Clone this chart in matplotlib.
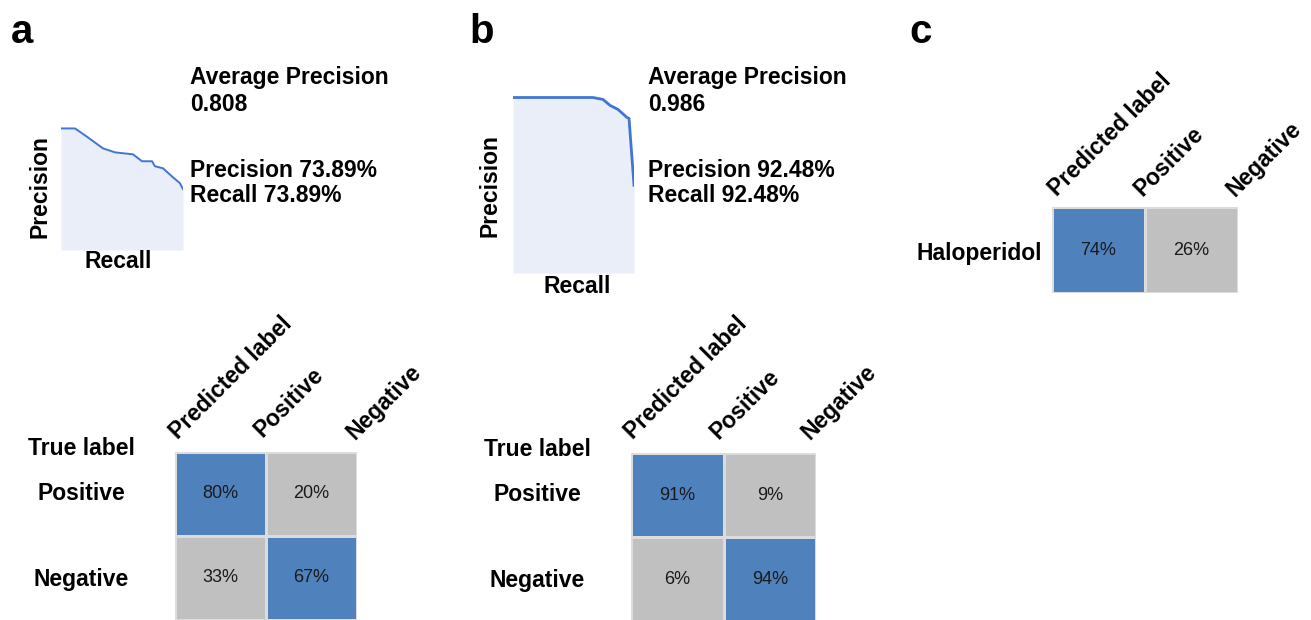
import numpy as np
import matplotlib
matplotlib.use("Agg")
import matplotlib.pyplot as plt
from matplotlib.colors import ListedColormap, BoundaryNorm

plt.rcParams['font.family'] = ['Liberation Sans', 'DejaVu Sans']

W, H = 1311, 620

# precision-recall curves
recall_a = [0.0, 0.115, 0.221, 0.344, 0.443, 0.590, 0.664, 0.746, 0.770, 0.836, 0.918, 0.975, 1.0]
precision_a = [1.0, 1.0, 0.926, 0.836, 0.803, 0.787, 0.730, 0.730, 0.689, 0.672, 0.598, 0.549, 0.50]
recall_b = [0.0, 0.661, 0.744, 0.802, 0.868, 0.942, 0.959, 1.0]
precision_b = [1.0, 1.0, 0.989, 0.955, 0.932, 0.886, 0.881, 0.50]

avg_prec = ["0.808", "0.986"]
prec_text = ["73.89%", "92.48%"]
rec_text = ["73.89%", "92.48%"]

# confusion matrices (percent)
cm_a = [[80, 20], [33, 67]]
cm_b = [[91, 9], [6, 94]]
cm_c = [[74, 26]]
class_labels = ["Positive", "Negative"]
drug = "Haloperidol"

BLUE = '#4f81bd'
GREY = '#c0c0c0'
LINE = '#3f76d6'
FILL = '#e9eef9'
FS = 16.5


def fx(x):
    return x / W


def fy(y):
    return 1 - y / H


def add_ax(left, top, right, bottom):
    return fig.add_axes([fx(left), fy(bottom), (right - left) / W, (bottom - top) / H])


def ftext(x, y, s, **kw):
    kw.setdefault('fontsize', FS)
    kw.setdefault('fontweight', 'bold')
    fig.text(fx(x), fy(y), s, **kw)


def draw_pr(box, rec, prec, lw, txt_x, ap, p, r, ylab, xlab):
    ax = add_ax(*box)
    ax.fill_between(rec, prec, 0, color=FILL, lw=0)
    ax.plot(rec, prec, color=LINE, lw=lw)
    ax.set_xlim(0, 1)
    ax.set_ylim(0, 1.02)
    ax.axis('off')
    ftext(txt_x, 84, "Average Precision")
    ftext(txt_x, 111, ap)
    ftext(txt_x, 177, "Precision " + p)
    ftext(txt_x, 202, "Recall " + r)
    ftext(ylab[0], ylab[1], "Precision", rotation=90, ha='center', va='center')
    ftext(xlab[0], xlab[1], "Recall", ha='center', va='baseline')


def draw_cm(box, cm, col_pos):
    cm = np.array(cm)
    ax = add_ax(*box)
    cmap = ListedColormap([GREY, BLUE])
    norm = BoundaryNorm([0, 50, 100], 2)
    ax.pcolormesh(cm, cmap=cmap, norm=norm, edgecolors='#dcdcdc', linewidth=0.8)
    ax.set_xlim(0, cm.shape[1])
    ax.set_ylim(cm.shape[0], 0)
    for i in range(cm.shape[0]):
        for j in range(cm.shape[1]):
            ax.text(j + 0.5, i + 0.5, f"{cm[i, j]}%", ha='center', va='center',
                    fontsize=13, color='#1a1a1a')
    ax.axis('off')
    for (x, y), s in zip(col_pos, ["Predicted label"] + class_labels):
        ftext(x, y, s, rotation=45, rotation_mode='anchor', ha='left', va='baseline')


fig = plt.figure(figsize=(W / 100, H / 100), dpi=100)

# panel labels
ftext(11, 43, "a", fontsize=29)
ftext(469, 43, "b", fontsize=29)
ftext(909, 43, "c", fontsize=29)

draw_pr((61, 126, 183, 250), recall_a, precision_a, 1.4, 190,
        avg_prec[0], prec_text[0], rec_text[0], (40, 187), (118, 268))
draw_pr((513, 94, 634, 273), recall_b, precision_b, 2.0, 648,
        avg_prec[1], prec_text[1], rec_text[1], (490, 186), (577, 293))

# confusion matrix a
draw_cm((175, 452, 357, 620), cm_a, [(178, 440), (262, 438), (355, 440)])
ftext(28, 455, "True label")
ftext(81, 500, class_labels[0], ha='center')
ftext(81, 586, class_labels[1], ha='center')

# confusion matrix b
draw_cm((631, 453, 816, 621), cm_b, [(633, 440), (718, 440), (810, 440)])
ftext(484, 456, "True label")
ftext(537, 501, class_labels[0], ha='center')
ftext(537, 587, class_labels[1], ha='center')

# confusion matrix c
draw_cm((1052, 207, 1238, 293), cm_c, [(1057, 197), (1142, 197), (1235, 197)])
ftext(1042, 260, drug, ha='right')

fig.savefig("out.png", dpi=100)
